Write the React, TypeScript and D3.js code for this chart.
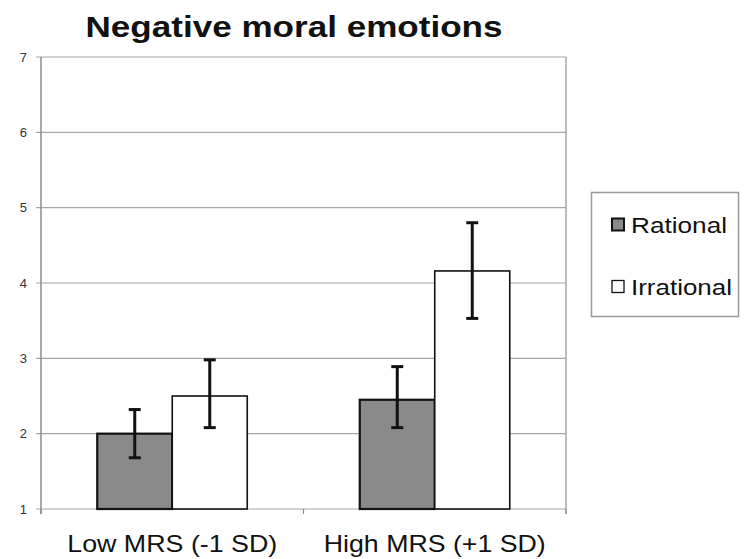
import React from "react";
import * as d3 from "d3";

const categories = ["Low MRS (-1 SD)", "High MRS (+1 SD)"];
const seriesNames = ["Rational", "Irrational"];
const rationalMeans = [2.0, 2.45];
const irrationalMeans = [2.5, 4.16];
const rationalLower = [1.68, 2.08];
const rationalUpper = [2.32, 2.89];
const irrationalLower = [2.08, 3.53];
const irrationalUpper = [2.98, 4.8];
const yTicks = [1, 2, 3, 4, 5, 6, 7];
const title = "Negative moral emotions";

const W = 744;
const H = 559;
const plot = { left: 41, right: 566, top: 57, bottom: 509 };
const fills = ["#8a8a8a", "#ffffff"];
const strokeW = [2.2, 1.6];

export default function App() {
  const y = d3.scaleLinear().domain([1, 7]).range([plot.bottom, plot.top]);
  const x0 = d3.scaleBand<string>().domain(categories).range([plot.left, plot.right]).paddingInner(0).paddingOuter(0);
  const x1 = d3.scaleBand<string>().domain(seriesNames).range([0, x0.bandwidth()]).paddingInner(0).paddingOuter(0.75);
  const means = [rationalMeans, irrationalMeans];
  const lows = [rationalLower, irrationalLower];
  const highs = [rationalUpper, irrationalUpper];
  const font = "'Liberation Sans', Arial, sans-serif";
  const grid = "#a6a6a6";
  const xTickPositions = [plot.left, ...categories.slice(1).map((c) => x0(c) as number), plot.right];

  return (
    <svg width={W} height={H} style={{ position: "absolute", left: 0, top: 0, background: "#fff" }} fontFamily={font}>
      <rect x={0} y={0} width={W} height={H} fill="#fff" />
      <text x={294} y={37} textAnchor="middle" fontSize={29} fontWeight="bold" fill="#111" textLength={417} lengthAdjust="spacingAndGlyphs">
        {title}
      </text>
      {/* gridlines */}
      {yTicks.map((t) => (
        <line key={"g" + t} x1={plot.left - 5} x2={plot.right} y1={y(t)} y2={y(t)} stroke={grid} strokeWidth={1.2} />
      ))}
      {/* right border */}
      <line x1={plot.right} x2={plot.right} y1={plot.top} y2={plot.bottom + 5} stroke={grid} strokeWidth={1.5} />
      {/* left axis */}
      <line x1={plot.left} x2={plot.left} y1={plot.top} y2={plot.bottom + 5} stroke="#8c8c8c" strokeWidth={1.5} />
      {/* x ticks */}
      {xTickPositions.map((px, i) => (
        <line key={"xt" + i} x1={px} x2={px} y1={plot.bottom} y2={plot.bottom + 5} stroke="#8c8c8c" strokeWidth={1.2} />
      ))}
      {yTicks.map((t) => (
        <text key={"yl" + t} x={27} y={y(t) + 4.5} textAnchor="end" fontSize={13} fill="#333">
          {t}
        </text>
      ))}
      {/* bars */}
      {categories.map((c, ci) =>
        seriesNames.map((s, si) => {
          const bx = (x0(c) as number) + (x1(s) as number);
          const v = means[si][ci];
          return (
            <rect
              key={c + s}
              x={bx}
              y={y(v)}
              width={x1.bandwidth()}
              height={y(1) - y(v)}
              fill={fills[si]}
              stroke="#111"
              strokeWidth={strokeW[si]}
            />
          );
        })
      )}
      {/* error bars */}
      {categories.map((c, ci) =>
        seriesNames.map((s, si) => {
          const cx = (x0(c) as number) + (x1(s) as number) + x1.bandwidth() / 2;
          const lo = y(lows[si][ci]);
          const hi = y(highs[si][ci]);
          return (
            <g key={"e" + c + s} stroke="#111" strokeWidth={3}>
              <line x1={cx} x2={cx} y1={hi} y2={lo} />
              <line x1={cx - 6} x2={cx + 6} y1={hi} y2={hi} />
              <line x1={cx - 6} x2={cx + 6} y1={lo} y2={lo} />
            </g>
          );
        })
      )}
      {/* x labels */}
      {categories.map((c) => (
        <text
          key={"xl" + c}
          x={(x0(c) as number) + x0.bandwidth() / 2}
          y={552}
          textAnchor="middle"
          fontSize={24}
          fill="#111"
          textLength={c.startsWith("Low") ? 210 : 222}
          lengthAdjust="spacingAndGlyphs"
        >
          {c}
        </text>
      ))}
      {/* legend */}
      <rect x={591.5} y={192.5} width={147} height={124} fill="#fff" stroke="#999" strokeWidth={1.5} />
      {seriesNames.map((s, si) => {
        const ly = si === 0 ? 225 : 287;
        return (
          <g key={"lg" + s}>
            <rect x={612} y={ly - 6.5} width={12} height={12} fill={fills[si]} stroke="#111" strokeWidth={si === 0 ? 2 : 1.3} />
            <text x={631} y={ly + 8} fontSize={22} fill="#111" textLength={si === 0 ? 96 : 101} lengthAdjust="spacingAndGlyphs">
              {s}
            </text>
          </g>
        );
      })}
    </svg>
  );
}
